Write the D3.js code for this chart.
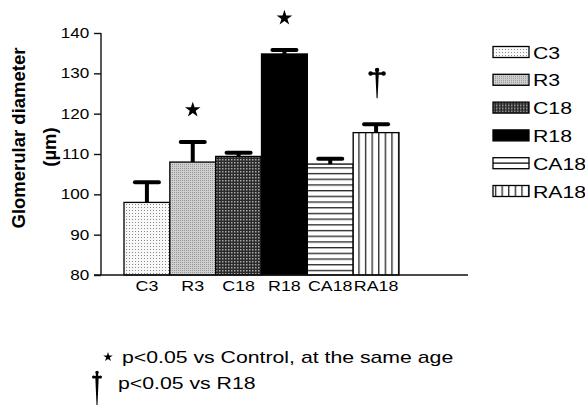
<!DOCTYPE html>
<html>
<head>
<meta charset="utf-8">
<script src="https://cdn.jsdelivr.net/npm/d3@7"></script>
<style>
body { margin: 0; background: #fff; }
svg text { font-family: "Liberation Sans", Arial, sans-serif; fill: #000; }
</style>
</head>
<body>
<div id="chart"></div>
<script>
var w = 585, h = 408;

// data
var groups = ["C3", "R3", "C18", "R18", "CA18", "RA18"];
var means = [98, 108, 109.4, 134.8, 107.5, 115.3];
var errTops = [103, 113, 110.3, 135.8, 108.8, 117.4];
var marks = ["", "star", "", "star", "", "dagger"];
var yTicks = [80, 90, 100, 110, 120, 130, 140];
var notes = ["p<0.05 vs Control, at the same age", "p<0.05 vs R18"];

var fills = ["url(#pC3)", "url(#pR3)", "url(#pC18)", "#000", "url(#pCA18)", "url(#pRA18)"];

var svg = d3.select("#chart").append("svg")
	.attr("width", w)
	.attr("height", h);

// ---- patterns
var defs = svg.append("defs");

var p = defs.append("pattern").attr("id", "pC3").attr("patternUnits", "userSpaceOnUse")
	.attr("width", 3).attr("height", 3);
p.append("rect").attr("width", 3).attr("height", 3).attr("fill", "#f8f8f8");
p.append("rect").attr("width", 1).attr("height", 1).attr("fill", "#8a8a8a");

p = defs.append("pattern").attr("id", "pR3").attr("patternUnits", "userSpaceOnUse")
	.attr("width", 2).attr("height", 2);
p.append("rect").attr("width", 2).attr("height", 2).attr("fill", "#d0d0d0");
p.append("rect").attr("width", 1).attr("height", 1).attr("fill", "#959595");

p = defs.append("pattern").attr("id", "pC18").attr("patternUnits", "userSpaceOnUse")
	.attr("width", 3).attr("height", 3);
p.append("rect").attr("width", 3).attr("height", 3).attr("fill", "#2a2a2a");
p.append("rect").attr("width", 1.5).attr("height", 1.5).attr("fill", "#a8a8a8");

p = defs.append("pattern").attr("id", "pCA18").attr("patternUnits", "userSpaceOnUse")
	.attr("width", 6).attr("height", 5.7);
p.append("rect").attr("width", 6).attr("height", 5.7).attr("fill", "#fff");
p.append("rect").attr("y", 2).attr("width", 6).attr("height", 1.2).attr("fill", "#111");

p = defs.append("pattern").attr("id", "pRA18").attr("patternUnits", "userSpaceOnUse")
	.attr("width", 6.6).attr("height", 6);
p.append("rect").attr("width", 6.6).attr("height", 6).attr("fill", "#fff");
p.append("rect").attr("x", 2).attr("width", 1.2).attr("height", 6).attr("fill", "#111");

// ---- scales
var x = d3.scaleBand()
	.domain(groups)
	.range([124, 399])
	.padding(0);

var y = d3.scaleLinear()
	.domain([80, 140])
	.range([275, 33]);

// ---- bars
var bars = svg.append("g").attr("class", "bars");

bars.selectAll("rect")
	.data(groups)
	.enter()
	.append("rect")
		.attr("x", function(d) { return x(d) })
		.attr("y", function(d, i) { return y(means[i]) })
		.attr("width", x.bandwidth())
		.attr("height", function(d, i) { return y(80) - y(means[i]) })
		.attr("fill", function(d, i) { return fills[i] })
		.attr("stroke", "#000")
		.attr("stroke-width", 1.3);

// ---- error bars (upper only)
var err = svg.append("g").attr("class", "errors")
	.attr("stroke", "#000")
	.attr("stroke-width", 4);

err.selectAll("line.stem")
	.data(groups)
	.enter()
	.append("line")
		.attr("class", "stem")
		.attr("x1", function(d) { return x(d) + x.bandwidth() / 2 })
		.attr("x2", function(d) { return x(d) + x.bandwidth() / 2 })
		.attr("y1", function(d, i) { return y(means[i]) })
		.attr("y2", function(d, i) { return y(errTops[i]) });

err.selectAll("line.cap")
	.data(groups)
	.enter()
	.append("line")
		.attr("class", "cap")
		.attr("stroke-linecap", "round")
		.attr("x1", function(d) { return x(d) + x.bandwidth() / 2 - 12 })
		.attr("x2", function(d) { return x(d) + x.bandwidth() / 2 + 12 })
		.attr("y1", function(d, i) { return y(errTops[i]) })
		.attr("y2", function(d, i) { return y(errTops[i]) });

// ---- axes
var yAxis = svg.append("g")
	.attr("transform", "translate(101,0)")
	.call(d3.axisLeft(y).tickValues(yTicks).tickSize(7).tickPadding(3));
yAxis.select(".domain").remove();
yAxis.selectAll(".tick line").attr("stroke", "#111").attr("stroke-width", 1.4);
yAxis.selectAll(".tick text")
	.attr("font-size", 14.5)
	.attr("fill", "#000")
	.attr("transform", "scale(1.18,1)");

svg.append("line")
	.attr("x1", 101).attr("x2", 101)
	.attr("y1", y(80)).attr("y2", y(140))
	.attr("stroke", "#111").attr("stroke-width", 1.4);

svg.append("line")
	.attr("x1", 94).attr("x2", 468)
	.attr("y1", y(80)).attr("y2", y(80))
	.attr("stroke", "#111").attr("stroke-width", 1.4);

var xAxis = svg.append("g")
	.attr("transform", "translate(0," + y(80) + ")")
	.call(d3.axisBottom(x).tickSize(0).tickPadding(5));
xAxis.select(".domain").remove();
xAxis.selectAll(".tick text")
	.attr("font-size", 15.5)
	.attr("fill", "#000")
	.attr("transform", "scale(1.15,1)");

// y label
svg.append("text")
	.attr("transform", "translate(25,138) rotate(-90)")
	.attr("text-anchor", "middle")
	.attr("font-weight", "bold")
	.attr("font-size", 18.5)
	.text("Glomerular diameter");
svg.append("text")
	.attr("transform", "translate(56,147) rotate(-90)")
	.attr("text-anchor", "middle")
	.attr("font-weight", "bold")
	.attr("font-size", 18.5)
	.text("(\u00b5m)");

// ---- significance marks
// dagger drawn as a group: stem, crossbar and round knobs
var drawDagger = function(sel, hgt, half, r) {
	var c = hgt * 0.18;
	sel.append("path")
		.attr("d", "M-1.7," + c + " L1.7," + c + " L0.5," + hgt + " L-0.5," + hgt + " Z");
	sel.append("rect")
		.attr("x", -1.2).attr("y", 0).attr("width", 2.4).attr("height", c);
	sel.append("rect")
		.attr("x", -half).attr("y", c - 1.2).attr("width", 2 * half).attr("height", 2.4);
	sel.selectAll("circle")
		.data([[0, r * 0.8], [-half, c], [half, c]])
		.enter()
		.append("circle")
			.attr("cx", function(d) { return d[0] })
			.attr("cy", function(d) { return d[1] })
			.attr("r", r);
};

var star = d3.symbol().type(d3.symbolStar);

var marksG = svg.append("g").selectAll("g")
	.data(groups.filter(function(d, i) { return marks[i] != "" }))
	.enter()
	.append("g")
		.attr("fill", "#000")
		.attr("transform", function(d) {
			var i = groups.indexOf(d);
			var cx = x(d) + x.bandwidth() / 2;
			if (marks[i] == "star") return "translate(" + cx + "," + (y(errTops[i]) - 32) + ")";
			return "translate(" + (cx + 1) + "," + (y(errTops[i]) - 56) + ")";
		});

marksG.each(function(d) {
	var i = groups.indexOf(d);
	if (marks[i] == "star") {
		d3.select(this).append("path").attr("d", star.size(75)());
	} else {
		drawDagger(d3.select(this), 30, 6.5, 2.2);
	}
});

// ---- legend
var legend = svg.append("g").attr("class", "legend");
var rows = legend.selectAll("g")
	.data(groups)
	.enter()
	.append("g")
		.attr("transform", function(d, i) { return "translate(493," + (52 + i * 27.8) + ")" });
rows.append("rect")
	.attr("x", 0).attr("y", -5.5)
	.attr("width", 36).attr("height", 11)
	.attr("fill", function(d, i) { return i == 4 ? "#fff" : fills[i] })
	.attr("stroke", "#000")
	.attr("stroke-width", 1.3);
// CA18 legend box shows only one line
rows.filter(function(d) { return d == "CA18" }).append("line")
	.attr("x1", 0).attr("x2", 36).attr("y1", 0).attr("y2", 0)
	.attr("stroke", "#000").attr("stroke-width", 1.2);
rows.append("text")
	.attr("transform", "translate(40,6.5) scale(1.25,1)")
	.attr("font-size", 17)
	.text(function(d) { return d });

// ---- footnotes
svg.append("path")
	.attr("transform", "translate(108,357)")
	.attr("d", star.size(28)());
svg.append("text")
	.attr("transform", "translate(122,363) scale(1.25,1)")
	.attr("font-size", 17)
	.text(notes[0]);
svg.append("g")
	.attr("transform", "translate(97,371)")
	.call(drawDagger, 34, 3.5, 1.5);
svg.append("text")
	.attr("transform", "translate(118,389) scale(1.25,1)")
	.attr("font-size", 17)
	.text(notes[1]);
</script>
</body>
</html>
